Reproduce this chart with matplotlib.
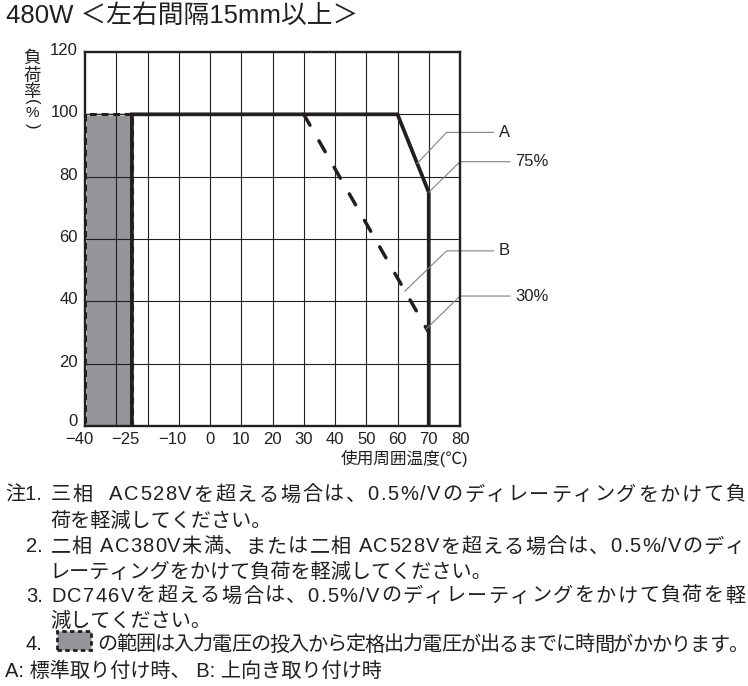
import re
import numpy as np
import matplotlib
matplotlib.use("Agg")
import matplotlib.pyplot as plt
from matplotlib import font_manager as fm
from matplotlib.patches import Rectangle
from matplotlib.transforms import ScaledTranslation

_available = {f.name for f in fm.fontManager.ttflist}


def families(*names):
    return [n for n in names if n in _available] or ['DejaVu Sans']


LATIN_CJK = families('Liberation Sans', 'Arimo', 'Noto Sans CJK JP', 'DejaVu Sans')
CJK_FIRST = families('Noto Sans CJK JP', 'DejaVu Sans')
plt.rcParams['font.family'] = LATIN_CJK
plt.rcParams['axes.unicode_minus'] = True

# ---- data ----
temp_a = [-25, -25, 60, 70, 70]          # standard mounting (A)
load_a = [0, 100, 100, 75, 0]
temp_b = [30, 70]                        # upward mounting (B)
load_b = [100, 30]
startup_temp = [-40, -25]                # slow start-up range
startup_load = 100

x_ticks = [-40, -25, -10, 0, 10, 20, 30, 40, 50, 60, 70, 80]
x_grid = [-30, -20, -10, 0, 10, 20, 30, 40, 50, 60, 70]
y_ticks = [0, 20, 40, 60, 80, 100, 120]

title = "480W ＜左右間隔15mm以上＞"
ylabel_chars = ["負", "荷", "率", "(", "%", ")"]
xlabel = "使用周囲温度(℃)"
notes = [
    "注1. 三相  AC528Vを超える場合は、0.5%/Vのディレーティングをかけて負",
    "荷を軽減してください。",
    "2. 二相 AC380V未満、または二相 AC528Vを超える場合は、0.5%/Vのディ",
    "レーティングをかけて負荷を軽減してください。",
    "3. DC746Vを超える場合は、0.5%/Vのディレーティングをかけて負荷を軽",
    "減してください。",
    "4.",
    "A: 標準取り付け時、 B: 上向き取り付け時",
]
note4_tail = "の範囲は入力電圧の投入から定格出力電圧が出るまでに時間がかかります。"

DARK = "#231f20"
GREY_FILL = "#939598"
LEADER = "#808080"

W, H = 748, 686
fig = plt.figure(figsize=(W / 100, H / 100), dpi=100)
renderer = fig.canvas.get_renderer()


def fx(px):
    return px / W


def fy(py):
    return 1 - py / H


ax = fig.add_axes([fx(85), fy(426), fx(460) - fx(85), fy(52) - fy(426)])
ax.set_xlim(-40, 80)
ax.set_ylim(0, 120)

# grid
for g in x_grid:
    ax.axvline(g, color=DARK, lw=0.8, zorder=1.5)
for g in y_ticks[1:-1]:
    ax.axhline(g, color=DARK, lw=0.8, zorder=1.5)

# start-up region
ax.add_patch(Rectangle((startup_temp[0], 0), startup_temp[1] - startup_temp[0], startup_load,
                       facecolor=GREY_FILL, edgecolor="#d4d4d4", lw=2.2, zorder=1))
ax.add_patch(Rectangle((startup_temp[0], 0), startup_temp[1] - startup_temp[0], startup_load,
                       facecolor="none", edgecolor=DARK, lw=2.2, linestyle=(0, (2.2, 1.6)),
                       zorder=1.6))

# derating curves
ax.plot(temp_a, load_a, color=DARK, lw=2.7, solid_joinstyle="miter", zorder=3)
ax.plot(temp_b, load_b, color=DARK, lw=2.5, linestyle=(0, (3.6, 5.2)),
        dash_capstyle="round", zorder=3)


# leader lines with labels
def leader(target_x, target_y, elbow_x, elbow_y, end_x, text, text_x):
    ax.plot([target_x, elbow_x, end_x], [target_y, elbow_y, elbow_y],
            color=LEADER, lw=0.8, clip_on=False, zorder=4)
    ax.text(text_x, elbow_y, text, fontsize=12, color=DARK, va="center", ha="left",
            clip_on=False)


ax_x = 66.3
leader(ax_x, np.interp(ax_x, temp_a[2:4], load_a[2:4]), 75.7, 94.2, 90.7, "A", 92.5)
leader(temp_a[3], load_a[3], 80.0, 84.8, 96.0, f"{load_a[3]}%", 97.6)
bx = 62.4
leader(bx, np.interp(bx, temp_b, load_b), 75.7, 56.2, 90.7, "B", 92.5)
bx_end = 69.3
leader(bx_end, np.interp(bx_end, temp_b, load_b), 80.0, 41.7, 96.0, f"{load_b[1]}%", 97.6)

# axes styling
for s in ax.spines.values():
    s.set_linewidth(1.7)
    s.set_color(DARK)
    s.set_zorder(5)
ax.set_xticks(x_ticks)
ax.set_xticklabels([f"{t}".replace("-", "\u2212") for t in x_ticks])
ax.set_yticks(y_ticks)
ax.tick_params(axis="both", length=0, labelsize=12, colors=DARK)
ax.tick_params(axis="x", pad=4)
ax.tick_params(axis="y", pad=5)
shift_left = ScaledTranslation(-6 / 100, 0, fig.dpi_scale_trans)
for t, lab in zip(x_ticks, ax.get_xticklabels()):
    if t < 0:
        lab.set_transform(lab.get_transform() + shift_left)
for t, lab in zip(y_ticks, ax.get_yticklabels()):
    up = 6 if t == 0 else 3
    lab.set_transform(lab.get_transform() + ScaledTranslation(0, up / 100, fig.dpi_scale_trans))

# titles and axis labels
fig.text(fx(6), fy(16), title, fontsize=18.5, color=DARK, va="center", ha="left")
ylab_y = [57.5, 75.5, 92.5, 101.5, 113, 125.5]
ylab_rot = [0, 0, 0, -90, 0, -90]
ylab_size = [12.5, 12.5, 12.5, 12, 11, 12]
for ch, yy, rot, sz in zip(ylabel_chars, ylab_y, ylab_rot, ylab_size):
    fig.text(fx(32), fy(yy), ch, fontsize=sz, color=DARK,
             va="center", ha="center", rotation=rot, rotation_mode="anchor",
             family=CJK_FIRST if rot == 0 and ch != "%" else LATIN_CJK)
fig.text(fx(468), fy(458), xlabel, fontsize=12, color=DARK, va="center", ha="right")

# notes below the chart
NOTE_SIZE = 14.5
NOTE_FONT = LATIN_CJK


def measure(s):
    t = fig.text(0, 0, s, fontsize=NOTE_SIZE, family=NOTE_FONT)
    w = t.get_window_extent(renderer).width
    t.remove()
    return w


def note_line(line, x0, y, x1=None):
    """Draw a note line; when x1 is given the characters are spread to end at x1."""
    if x1 is None:
        fig.text(fx(x0), fy(y), line, fontsize=NOTE_SIZE, color=DARK, va="center",
                 ha="left", family=NOTE_FONT)
        return
    m = re.match(r'注?\d\.', line)
    tokens = ([m.group(0)] + list(line[m.end():])) if m else list(line)
    base = measure("||")
    widths = [measure("|" + tok + "|") - base for tok in tokens]
    extra = (x1 - x0 - sum(widths)) / max(len(tokens) - 1, 1)
    x = x0
    for tok, w in zip(tokens, widths):
        if tok.strip():
            fig.text(fx(x), fy(y), tok, fontsize=NOTE_SIZE, color=DARK, va="center",
                     ha="left", family=NOTE_FONT)
        x += w + extra


note_x = [5, 50, 26, 50, 26, 50, 26, 5]
note_y = [495, 521, 547, 572, 596, 621, 645, 671]
note_end = [745, None, 745, None, 745, None, None, None]
for txt, xx, yy, xe in zip(notes, note_x, note_y, note_end):
    note_line(txt, xx, yy, xe)
fig.add_artist(Rectangle((fx(57), fy(650)), fx(91) - fx(57), fy(631) - fy(650),
                         transform=fig.transFigure, facecolor=GREY_FILL,
                         edgecolor=DARK, lw=2.0, linestyle=(0, (1.6, 1.2))))
note_line(note4_tail, 97, 645, 748)

fig.savefig("out.png", dpi=100)
